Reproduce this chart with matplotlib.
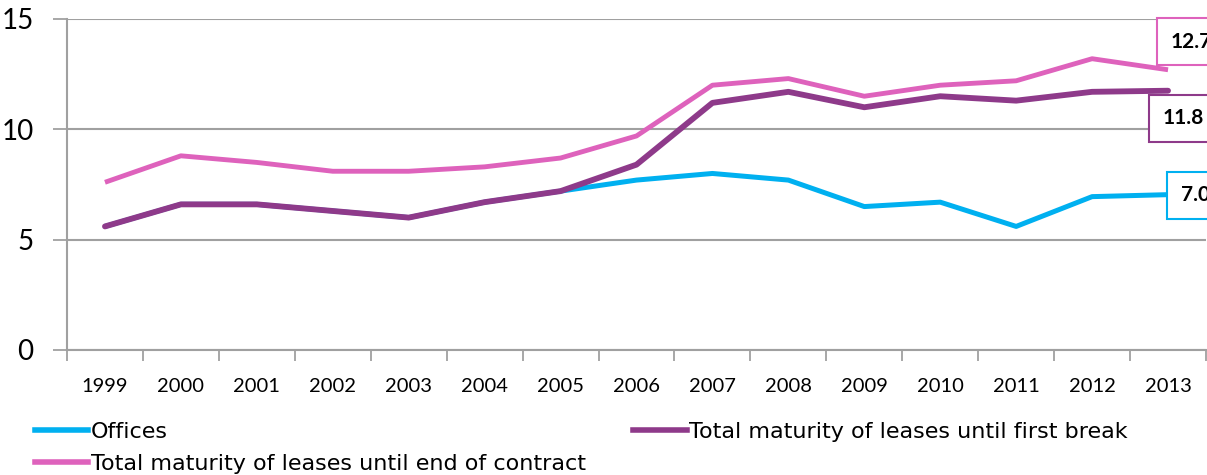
import matplotlib.pyplot as plt
import numpy as np
from matplotlib.lines import Line2D

years = ['1999', '2000', '2001', '2002', '2003', '2004', '2005', '2006',
         '2007', '2008', '2009', '2010', '2011', '2012', '2013']
offices = [5.6, 6.6, 6.6, 6.3, 6.0, 6.7, 7.2, 7.7, 8.0, 7.7, 6.5, 6.7, 5.6, 6.95, 7.04]
first_break = [5.6, 6.6, 6.6, 6.3, 6.0, 6.7, 7.2, 8.4, 11.2, 11.7, 11.0, 11.5, 11.3, 11.7, 11.75]
end_contract = [7.6, 8.8, 8.5, 8.1, 8.1, 8.3, 8.7, 9.7, 12.0, 12.3, 11.5, 12.0, 12.2, 13.2, 12.7]

c_off = '#00B0F0'
c_brk = '#8E3A8A'
c_end = '#DE62BC'

plt.rcParams['font.family'] = ['Lato', 'DejaVu Sans']

fig = plt.figure(figsize=(12.07, 4.75), dpi=100)
ax = fig.add_axes([67/1207, 1-350/475, 1139/1207, 331/475])

x = np.arange(len(years))
ax.plot(x, offices, color=c_off, lw=3.6, solid_capstyle='butt', zorder=3)
ax.plot(x, end_contract, color=c_end, lw=3.5, solid_capstyle='butt', zorder=3)
ax.plot(x, first_break, color=c_brk, lw=4.2, solid_capstyle='round', zorder=4)

ax.set_xlim(-0.5, len(years) - 0.5)
ax.set_ylim(0, 15)
ax.set_yticks([0, 5, 10, 15])
ax.set_xticks(x)
ax.set_xticklabels(years, fontsize=14.5)
ax.set_xticks(np.arange(len(years) + 1) - 0.5, minor=True)
ax.tick_params(axis='x', which='major', length=0, pad=20)
ax.tick_params(axis='x', which='minor', length=8, width=1.3, color='#A0A0A0', direction='out')
ax.tick_params(axis='y', length=10, width=1.3, color='#A0A0A0', labelsize=20, pad=14)

ax.grid(axis='y', color='#A0A0A0', lw=1.5)
ax.set_axisbelow(True)
for s in ['top', 'right']:
    ax.spines[s].set_visible(False)
for s in ['left', 'bottom']:
    ax.spines[s].set_color('#A0A0A0')
    ax.spines[s].set_linewidth(1.5)

# value boxes beside the last year, running off the right edge
last = len(years) - 1
boxes = [(end_contract[last], c_end, 14.03, 13.96),
         (first_break[last], c_brk, 13.93, 10.5),
         (offices[last], c_off, 14.17, 7.02)]
for val, col, bx, by in boxes:
    ax.text(bx, by, f'{val:.1f}', fontsize=15, fontweight='bold',
            ha='left', va='center', color='black', clip_on=False,
            bbox=dict(boxstyle='square,pad=0.65', fc='white', ec=col, lw=1.5), zorder=5)

handles = [Line2D([], [], color=c_off, lw=4),
           Line2D([], [], color=c_end, lw=4),
           Line2D([], [], color=c_brk, lw=4)]
labels = ['Offices', 'Total maturity of leases until end of contract',
          'Total maturity of leases until first break']
fig.legend(handles, labels, ncol=2, loc='upper left', bbox_to_anchor=(35/1207, 1-422/475),
           frameon=False, handlelength=2.4, handletextpad=0.1,
           columnspacing=2.15, labelspacing=0.55, borderpad=0, borderaxespad=0,
           prop={'family': 'DejaVu Sans', 'size': 16})

fig.savefig('out.png', dpi=100)
